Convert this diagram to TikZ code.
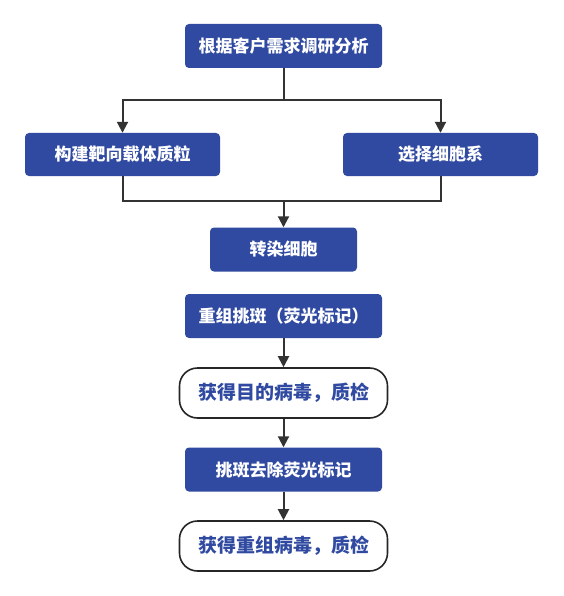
\documentclass[tikz,border=0pt]{standalone}
\usepackage{fontspec}
\setmainfont{Noto Sans CJK SC}
\usetikzlibrary{arrows.meta}
\definecolor{boxblue}{RGB}{48,74,161}
\definecolor{linegray}{RGB}{51,51,51}
\tikzset{
  bluebox/.style={draw=none,fill=boxblue,rounded corners=4pt,text=white,font=\fontsize{17}{19}\selectfont\bfseries,inner sep=0pt},
  roundbox/.style={draw=black!85,line width=1.6pt,fill=white,rounded corners=18pt,text=boxblue,font=\fontsize{19}{21}\selectfont\bfseries,inner sep=0pt},
  conn/.style={draw=linegray,line width=2pt},
  arr/.style={conn,-{Triangle[length=11pt,width=11pt]}}
}
\begin{document}
\begin{tikzpicture}[x=1pt,y=-1pt]
\useasboundingbox (0,0) rectangle (563,596);
\node[bluebox,minimum width=197pt,minimum height=44pt] (a) at (283.5,46) {根据客户需求调研分析};
\node[bluebox,minimum width=195pt,minimum height=43pt] (b) at (122.5,154.5) {构建靶向载体质粒};
\node[bluebox,minimum width=195pt,minimum height=43pt] (c) at (440.5,154.5) {选择细胞系};
\node[bluebox,minimum width=147pt,minimum height=44pt] (d) at (283.5,249.5) {转染细胞};
\node[bluebox,minimum width=197pt,minimum height=44pt] (e) at (283.5,316) {重组挑斑（荧光标记）};
\node[roundbox,minimum width=208pt,minimum height=50pt] (f) at (283.5,393) {获得目的病毒，质检};
\node[bluebox,minimum width=197pt,minimum height=44pt] (g) at (283.5,469.5) {挑斑去除荧光标记};
\node[roundbox,minimum width=208pt,minimum height=50pt] (h) at (283.5,546) {获得重组病毒，质检};
\coordinate (split) at (283.5,100);
\coordinate (merge) at (283.5,201);
\draw[conn] (a.south) -- (split);
\draw[arr] (split) -| (b.north);
\draw[arr] (split) -| (c.north);
\draw[conn] (b.south) |- (merge);
\draw[conn] (c.south) |- (merge);
\draw[arr] (merge) -- (d.north);
\draw[arr] (e.south) -- (f.north);
\draw[arr] (f.south) -- (g.north);
\draw[arr] (g.south) -- (h.north);
\end{tikzpicture}
\end{document}
